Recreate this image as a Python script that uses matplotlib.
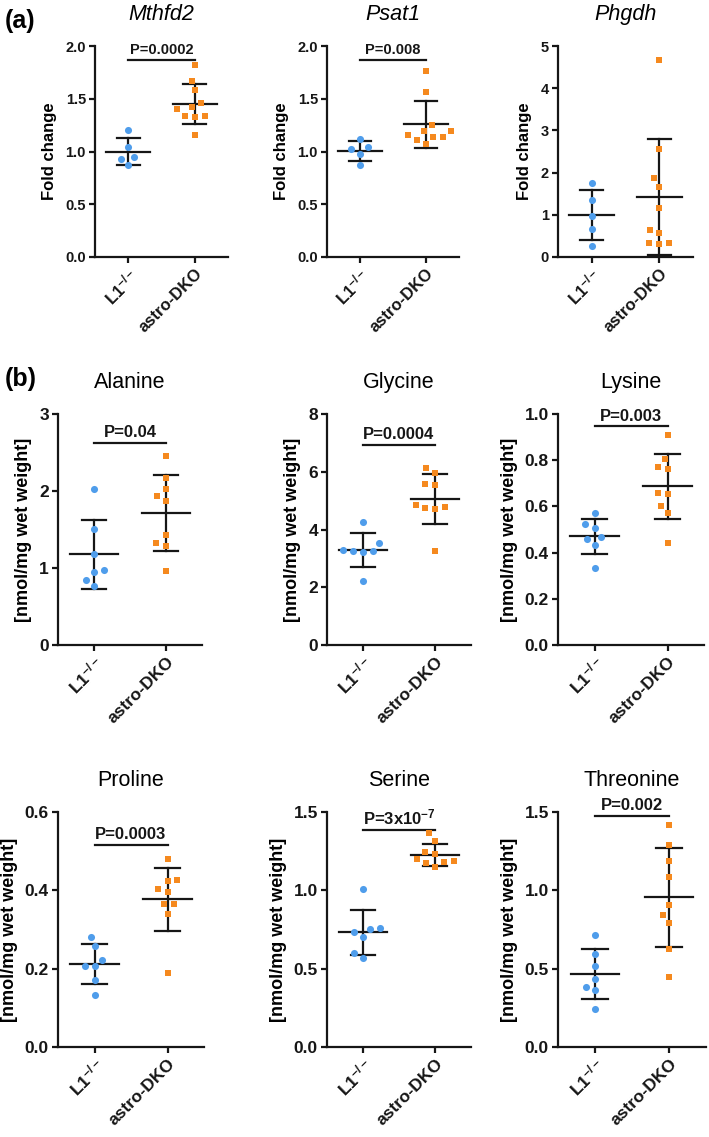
import numpy as np
import matplotlib.pyplot as plt

plt.rcParams['font.family'] = ['Liberation Sans', 'DejaVu Sans']
plt.rcParams['mathtext.fontset'] = 'custom'
plt.rcParams['mathtext.rm'] = 'Liberation Sans'
plt.rcParams['mathtext.bf'] = 'Liberation Sans:bold'
plt.rcParams['mathtext.default'] = 'regular'

BLUE = '#4f9deb'
ORANGE = '#f5891e'
INK = '#161616'

groups = [r'L1$^{-/-}$', 'astro-DKO']

# (a) qPCR, fold change
mthfd2_l1 = [1.20, 1.04, 0.95, 0.93, 0.87]
mthfd2_dko = [1.82, 1.67, 1.58, 1.46, 1.42, 1.40, 1.34, 1.34, 1.33, 1.16]
psat1_l1 = [1.12, 1.04, 1.02, 0.98, 0.87]
psat1_dko = [1.76, 1.56, 1.25, 1.19, 1.19, 1.16, 1.14, 1.14, 1.11, 1.07]
phgdh_l1 = [1.76, 1.35, 0.97, 0.67, 0.25]
phgdh_dko = [4.68, 2.57, 1.87, 1.67, 1.17, 0.65, 0.57, 0.34, 0.34, 0.31]

# (b) amino acids, nmol/mg wet weight
alanine_l1 = [2.02, 1.51, 1.18, 0.97, 0.95, 0.85, 0.77]
alanine_dko = [2.45, 2.17, 2.02, 1.93, 1.87, 1.43, 1.32, 1.28, 0.96]
glycine_l1 = [4.25, 3.53, 3.30, 3.26, 3.24, 3.23, 2.21]
glycine_dko = [6.13, 5.95, 5.59, 5.53, 4.86, 4.77, 4.75, 4.70, 3.24]
lysine_l1 = [0.570, 0.523, 0.506, 0.466, 0.459, 0.433, 0.335]
lysine_dko = [0.911, 0.806, 0.771, 0.764, 0.659, 0.652, 0.603, 0.571, 0.443]
proline_l1 = [0.282, 0.258, 0.223, 0.207, 0.206, 0.170, 0.132]
proline_dko = [0.479, 0.427, 0.424, 0.404, 0.397, 0.366, 0.364, 0.340, 0.189]
serine_l1 = [1.011, 0.760, 0.751, 0.732, 0.704, 0.597, 0.570]
serine_dko = [1.365, 1.316, 1.242, 1.233, 1.201, 1.188, 1.178, 1.173, 1.146]
threonine_l1 = [0.717, 0.593, 0.518, 0.433, 0.386, 0.363, 0.241]
threonine_dko = [1.415, 1.291, 1.190, 1.088, 0.907, 0.843, 0.792, 0.625, 0.448]

titles = ['Mthfd2', 'Psat1', 'Phgdh', 'Alanine', 'Glycine', 'Lysine',
          'Proline', 'Serine', 'Threonine']
l1_sets = [mthfd2_l1, psat1_l1, phgdh_l1, alanine_l1, glycine_l1, lysine_l1,
           proline_l1, serine_l1, threonine_l1]
dko_sets = [mthfd2_dko, psat1_dko, phgdh_dko, alanine_dko, glycine_dko, lysine_dko,
            proline_dko, serine_dko, threonine_dko]
y_max = [2.0, 2.0, 5, 3, 8, 1.0, 0.6, 1.5, 1.5]
y_step = [0.5, 0.5, 1, 1, 2, 0.2, 0.2, 0.5, 0.5]
y_fmt = ['%.1f', '%.1f', '%d', '%d', '%d', '%.1f', '%.1f', '%.1f', '%.1f']
p_texts = ['P=0.0002', 'P=0.008', None, 'P=0.04', 'P=0.0004', 'P=0.003',
           'P=0.0003', r'P=3x10$^{-7}$', 'P=0.002']
p_heights = [1.87, 1.87, None, 2.62, 6.94, 0.946, 0.517, 1.383, 1.474]


def swarm(vals, px_y, px_x, d=10.0):
    # simple beeswarm in pixel space, returns x offsets in data units
    vals = np.asarray(vals, dtype=float)
    xs = np.zeros(len(vals))
    placed = []
    for i in np.argsort(vals):
        y = vals[i] * px_y
        near = [(px, py) for px, py in placed if abs(py - y) < d]
        cands = [0.0]
        for px, py in near:
            dx = np.sqrt(d ** 2 - (py - y) ** 2)
            cands += [px - dx, px + dx]
        cands.sort(key=abs)
        for c in cands:
            if all((c - px) ** 2 + (y - py) ** 2 >= d ** 2 - 1e-6 for px, py in near):
                break
        placed.append((c, y))
        xs[i] = c / px_x
    return xs


W, H = 709, 1137
fig = plt.figure(figsize=(W / 100, H / 100), dpi=100)

# axes boxes in pixels: left, top, width, bottom
boxes = [(95, 46, 133, 257), (327, 46, 132, 257), (558, 46, 135, 257),
         (58, 414, 144, 645), (327, 414, 144, 645), (558, 414, 146, 645),
         (58, 812, 146, 1047), (327, 812, 144, 1047), (558, 812, 148, 1047)]

for k, (l, t, w, b) in enumerate(boxes):
    top_row = k < 3
    ytick_fs = 10.5 if top_row else 12.5
    xtick_fs = 12 if top_row else 12.5
    p_fs = 10.5 if top_row else 12

    ax = fig.add_axes([l / W, 1 - b / H, w / W, (b - t) / H])
    ax.set_xlim(-0.5, 1.5)
    ax.set_ylim(0, y_max[k])
    px_x = w / 2.0
    px_y = (b - t) / y_max[k]

    for g, (vals, col, mk, sz) in enumerate([(l1_sets[k], BLUE, 'o', 26),
                                             (dko_sets[k], ORANGE, 's', 20)]):
        vals = np.asarray(vals)
        xo = swarm(vals, px_y, px_x)
        ax.scatter(g + xo, vals, s=sz, marker=mk, color=col, linewidths=0,
                   zorder=3, clip_on=False)
        m = vals.mean()
        sd = vals.std(ddof=1)
        lo = max(m - sd, 0)
        ax.plot([g - 0.33, g + 0.33], [m, m], color=INK, lw=1.6, zorder=2)
        ax.plot([g, g], [lo, m + sd], color=INK, lw=1.6, zorder=2)
        ax.plot([g - 0.17, g + 0.17], [m + sd, m + sd], color=INK, lw=1.6, zorder=2)
        ax.plot([g - 0.17, g + 0.17], [lo, lo], color=INK, lw=1.6, zorder=2,
                clip_on=False)

    if p_texts[k]:
        ax.plot([0, 1], [p_heights[k], p_heights[k]], color=INK, lw=1.6)
        ax.annotate(p_texts[k], (0.5, p_heights[k]), xytext=(0, 2),
                    textcoords='offset points', ha='center', va='bottom',
                    fontsize=p_fs, fontweight='bold', color=INK)

    ticks = np.arange(0, y_max[k] + y_step[k] / 2, y_step[k])
    ax.set_yticks(ticks)
    ax.set_yticklabels([y_fmt[k] % v for v in ticks])
    ax.set_xticks([0, 1])
    ax.set_xticklabels(groups, rotation=45, ha='right', va='top',
                       rotation_mode='anchor')

    for s in ['top', 'right']:
        ax.spines[s].set_visible(False)
    for s in ['left', 'bottom']:
        ax.spines[s].set_linewidth(1.6)
        ax.spines[s].set_color(INK)
    ax.tick_params(width=1.6, length=4, pad=2.5, colors=INK)
    ax.tick_params(axis='y', labelsize=ytick_fs)
    ax.tick_params(axis='x', labelsize=xtick_fs)
    for lab in ax.get_xticklabels() + ax.get_yticklabels():
        lab.set_fontweight('bold')

    if top_row:
        ax.set_title(titles[k], fontsize=15.5, style='italic', pad=19)
        ax.set_ylabel('Fold change', fontsize=12, fontweight='bold', labelpad=6)
    else:
        ax.set_title(titles[k], fontsize=15.5, pad=19)
        ax.set_ylabel('[nmol/mg wet weight]', fontsize=13, fontweight='bold',
                      labelpad=5)

fig.text(5 / W, 1 - 21 / H, '(a)', fontsize=18, fontweight='bold', va='center')
fig.text(5 / W, 1 - 379 / H, '(b)', fontsize=18, fontweight='bold', va='center')

fig.savefig('out.png', dpi=100)
